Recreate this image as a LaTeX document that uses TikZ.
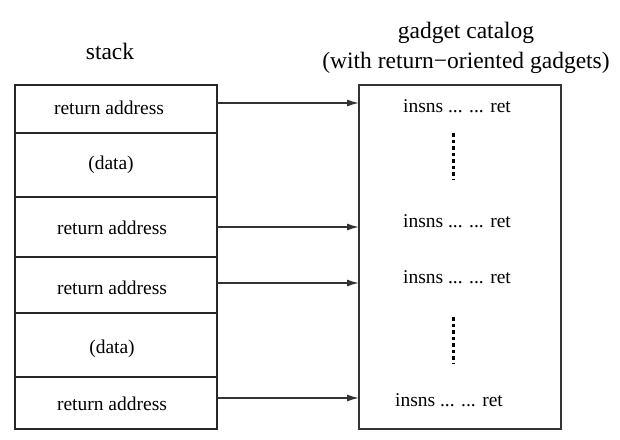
\documentclass[tikz,border=0pt]{standalone}
\usepackage{fontspec}
\setmainfont{Liberation Serif}
\usetikzlibrary{arrows.meta}
\begin{document}
\begin{tikzpicture}[x=1pt,y=-1pt,
  cell/.style={draw=black!85,line width=1.4pt,minimum width=202pt,inner sep=0pt,outer sep=0pt},
  txt/.style={font=\fontsize{19.5}{23}\selectfont,inner sep=0pt},
  ttl/.style={font=\fontsize{23.5}{29}\selectfont,inner sep=0pt,align=center},
  link/.style={draw=black!80,line width=1.4pt,-{Latex[length=12pt,width=7pt]}},
  dots/.style={line width=3pt,dash pattern=on 3.5pt off 3pt}]
\useasboundingbox (0,0) rectangle (620,439);
% titles
\node[ttl] (stk) at (110,51) {stack};
\node[ttl] (cattl) at (466,33) {gadget catalog};
\node[ttl] (cattl2) at (466,63) {(with return−oriented gadgets)};
% stack cells
\node[cell,anchor=north west,minimum height=48pt] (c1) at (15,85) {};
\node[cell,anchor=north west,minimum height=64pt] (c2) at (15,133) {};
\node[cell,anchor=north west,minimum height=60pt] (c3) at (15,197) {};
\node[cell,anchor=north west,minimum height=56pt] (c4) at (15,257) {};
\node[cell,anchor=north west,minimum height=64pt] (c5) at (15,313) {};
\node[cell,anchor=north west,minimum height=52pt] (c6) at (15,377) {};
\node[txt] (t1) at (109,108) {return address};
\node[txt] (t2) at (111,165) {(data)};
\node[txt] (t3) at (112,228) {return address};
\node[txt] (t4) at (112,288) {return address};
\node[txt] (t5) at (112,349) {(data)};
\node[txt] (t6) at (112,404) {return address};
% catalog
\node[draw=black!80,line width=1.4pt,anchor=north west,minimum width=202pt,minimum height=344pt,inner sep=0pt,outer sep=0pt] (cat) at (359,85) {};
\node[txt] (g1) at (457,106) {insns ... ... ret};
\node[txt] (g2) at (457,221) {insns ... ... ret};
\node[txt] (g3) at (457,277) {insns ... ... ret};
\node[txt] (g4) at (449,400) {insns ... ... ret};
\coordinate (d1a) at (453,133);
\coordinate (d1b) at (453,180);
\coordinate (d2a) at (453,317);
\coordinate (d2b) at (453,364);
\draw[dots] (d1a) -- (d1b);
\draw[dots] (d2a) -- (d2b);
% arrows
\coordinate (a1) at (217,103);
\coordinate (a3) at (217,227);
\coordinate (a4) at (217,283);
\coordinate (a6) at (217,398);
\draw[link] (a1) -- (a1 -| cat.west);
\draw[link] (a3) -- (a3 -| cat.west);
\draw[link] (a4) -- (a4 -| cat.west);
\draw[link] (a6) -- (a6 -| cat.west);
\end{tikzpicture}
\end{document}
